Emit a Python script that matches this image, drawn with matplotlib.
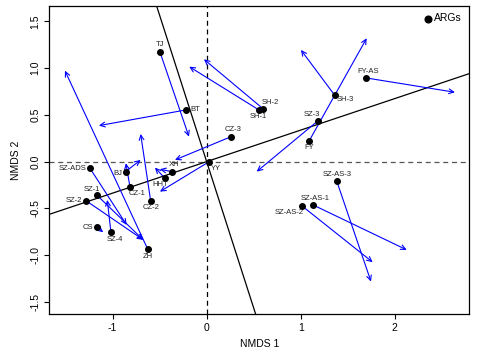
import numpy as np
import matplotlib
matplotlib.use('Agg')
import matplotlib.pyplot as plt

plt.rcParams['font.family'] = ['Liberation Sans', 'DejaVu Sans']

# sample scores (NMDS 1, NMDS 2) and where the arrow of each one points
names = ['TJ', 'BT', 'CZ-3', 'YY', 'XH', 'HHT', 'BJ', 'CZ-1', 'CZ-2', 'SZ-ADS',
         'SZ-1', 'SZ-2', 'CS', 'SZ-4', 'ZH', 'SH-1', 'SH-2', 'SZ-3', 'FY', 'SH-3',
         'FY-AS', 'SZ-AS-3', 'SZ-AS-1', 'SZ-AS-2']
nmds1 = [-0.497, -0.22, 0.26, 0.028, -0.372, -0.444, -0.862, -0.816, -0.596, -1.241,
         -1.17, -1.284, -1.17, -1.018, -0.628, 0.556, 0.602, 1.187, 1.09, 1.362,
         1.698, 1.383, 1.131, 1.014]
nmds2 = [1.173, 0.553, 0.267, 0.0, -0.107, -0.178, -0.107, -0.267, -0.417, -0.071,
         -0.356, -0.417, -0.70, -0.755, -0.934, 0.553, 0.564, 0.439, 0.221, 0.710,
         0.895, -0.206, -0.463, -0.474]
arrow1 = [-0.188, -1.146, -0.337, -0.497, -0.497, -0.55, -0.702, -0.859, -0.702, -0.851,
          -0.674, -0.674, -1.10, -1.057, -1.507, -0.185, -0.029, 0.532, 1.702, 1.003,
          2.641, 1.748, 2.128, 1.766]
arrow2 = [0.267, 0.385, 0.018, -0.321, -0.081, -0.064, 0.018, -0.017, 0.296, -0.677,
          -0.837, -0.837, -0.755, -0.41, 0.973, 1.016, 1.095, -0.107, 1.32, 1.195,
          0.742, -1.283, -0.944, -1.076]

# the two fitted lines through the origin
line_slopes = [-3.13, 0.337]

# label offsets in pixels (dx, dy) and alignment
label_pos = {
    'TJ': (0, 7, 'center'), 'BT': (4, 0, 'left'), 'CZ-3': (2, 7, 'center'),
    'YY': (2, -7, 'left'), 'XH': (2, 7, 'center'), 'HHT': (-5, -6, 'center'),
    'BJ': (-3, -2, 'right'), 'CZ-1': (7, -7, 'center'), 'CZ-2': (0, -7, 'center'),
    'SZ-ADS': (-4, 0, 'right'), 'SZ-1': (-5, 5, 'center'), 'SZ-2': (-4, 0, 'right'),
    'CS': (-4, 0, 'right'), 'SZ-4': (4, -7, 'center'), 'ZH': (0, -8, 'center'),
    'SH-1': (-1, -7, 'center'), 'SH-2': (7, 6, 'center'), 'SZ-3': (-6, 6, 'center'),
    'FY': (0, -7, 'center'), 'SH-3': (2, -4, 'left'), 'FY-AS': (2, 6, 'center'),
    'SZ-AS-3': (1, 6, 'center'), 'SZ-AS-1': (2, 6, 'center'), 'SZ-AS-2': (-13, -7, 'center'),
}

fig = plt.figure(figsize=(4.8, 3.52), dpi=100)
ax = fig.add_axes([0.103, 0.108, 0.874, 0.875])

ax.axhline(0, color='#555555', ls=(0, (4, 3)), lw=0.9, zorder=1)
ax.axvline(0, color='black', ls=(0, (4, 3)), lw=0.9, zorder=1)
for s in line_slopes:
    ax.axline((0, 0), slope=s, color='black', lw=0.9, zorder=1)

for i in range(len(names)):
    ax.annotate('', xy=(arrow1[i], arrow2[i]), xytext=(nmds1[i], nmds2[i]),
                arrowprops=dict(arrowstyle='->,head_length=0.35,head_width=0.17',
                                color='#0000ff', lw=0.8, shrinkA=0, shrinkB=0,
                                mutation_scale=10), zorder=2)

ax.scatter(nmds1, nmds2, s=16, color='black', zorder=3, label='ARGs')

for i, nm in enumerate(names):
    dx, dy, ha = label_pos[nm]
    ax.annotate(nm, (nmds1[i], nmds2[i]), xytext=(dx, dy), textcoords='offset pixels',
                ha=ha, va='center', fontsize=5.5, color='#222222', zorder=4)

ax.set_xlim(-1.672, 2.79)
ax.set_ylim(-1.63, 1.665)
ax.set_xticks([-1, 0, 1, 2])
ax.set_xticklabels(['-1', '0', '1', '2'])
ax.set_yticks([-1.5, -1.0, -0.5, 0.0, 0.5, 1.0, 1.5])
ax.set_yticklabels(['-1.5', '-1.0', '-0.5', '0.0', '0.5', '1.0', '1.5'],
                   rotation=90, va='center')
ax.tick_params(labelsize=7.5, length=3.6, width=0.8, pad=3)
for sp in ax.spines.values():
    sp.set_linewidth(0.9)
ax.set_xlabel('NMDS 1', fontsize=7.5, labelpad=4)
ax.set_ylabel('NMDS 2', fontsize=7.5, labelpad=7)

ax.legend(loc='upper right', frameon=False, fontsize=7.5, handletextpad=0.1,
          borderaxespad=0.3, markerscale=1.2, handlelength=1.0)

fig.savefig('out.png', dpi=100)
